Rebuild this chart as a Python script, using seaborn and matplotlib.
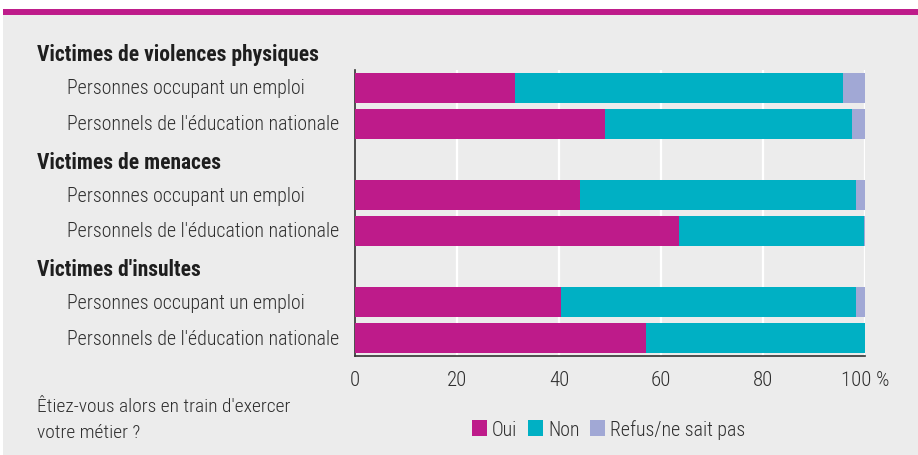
import matplotlib
matplotlib.use("Agg")
import matplotlib.pyplot as plt
import matplotlib.transforms as mtransforms
from matplotlib.patches import Rectangle
from matplotlib.lines import Line2D
import seaborn as sns
import pandas as pd
import numpy as np

# ---- data ----
groups = ["Victimes de violences physiques", "Victimes de menaces", "Victimes d'insultes"]
subcats = ["Personnes occupant un emploi", "Personnels de l'éducation nationale"]
oui = [31.4, 49.1, 44.2, 63.6, 40.4, 57.1]
non = [64.2, 48.4, 54.1, 36.2, 57.9, 42.9]
refus = [4.4, 2.5, 1.7, 0.2, 1.7, 0.0]
series = ["Oui", "Non", "Refus/ne sait pas"]
xticks = [0, 20, 40, 60, 80, 100]
xticklabels = ["0", "20", "40", "60", "80", "100 %"]
question = "Êtiez-vous alors en train d'exercer\nvotre métier ?"

colors = {"Oui": "#be1b8a", "Non": "#00b0c4", "Refus/ne sait pas": "#a1a8d5"}
BG = "#ececec"
TXT = "#2e2e2e"

sns.set_theme(style="white")
FONT = ["Roboto Condensed", "Barlow Semi Condensed", "Archivo Narrow", "DejaVu Sans"]
plt.rcParams["font.family"] = FONT

# build slots: header slot (empty) between groups, first header above axes
rows = []
slot_labels = []
k = 0
for gi, g in enumerate(groups):
    if gi > 0:
        slot = f"H{gi}"
        slot_labels.append(slot)
        rows.append({"slot": slot, "oui": np.nan, "non": np.nan, "tot": np.nan})
    for s in subcats:
        slot = f"R{k}"
        slot_labels.append(slot)
        rows.append({"slot": slot, "oui": oui[k], "non": oui[k] + non[k],
                     "tot": oui[k] + non[k] + refus[k]})
        k += 1
df = pd.DataFrame(rows)

fig = plt.figure(figsize=(9.18, 4.56), dpi=100)
fig.patch.set_facecolor("white")
# grey panel and magenta top rule
fig.patches.append(Rectangle((3 / 918, 0), 1, 1 - 15 / 456, transform=fig.transFigure,
                             facecolor=BG, edgecolor="none", zorder=-10))
fig.lines.append(Line2D([3 / 918, 1], [1 - 12.8 / 456, 1 - 12.8 / 456], transform=fig.transFigure,
                        color="#be1b8a", lw=4.3, solid_capstyle="butt", zorder=-9))

ax = fig.add_axes([355 / 918, 1 - 357 / 456, 510 / 918, (357 - 71) / 456])
ax.set_facecolor(BG)

bw = 0.84
sns.barplot(data=df, y="slot", x="tot", order=slot_labels, orient="h",
            color=colors["Refus/ne sait pas"], width=bw, saturation=1, ax=ax, zorder=3)
sns.barplot(data=df, y="slot", x="non", order=slot_labels, orient="h",
            color=colors["Non"], width=bw, saturation=1, ax=ax, zorder=3)
sns.barplot(data=df, y="slot", x="oui", order=slot_labels, orient="h",
            color=colors["Oui"], width=bw, saturation=1, ax=ax, zorder=3)
for p in ax.patches:
    p.set_edgecolor("none")
    p.set_linewidth(0)

ax.set_xlim(0, 100)
n = len(slot_labels)
ax.set_ylim(n - 0.5, -0.5)
ax.set_xlabel("")
ax.set_ylabel("")

for xv in xticks[1:]:
    ax.axvline(xv, color="white", lw=1.6, zorder=1)

for sp in ["top", "right"]:
    ax.spines[sp].set_visible(False)
for sp in ["left", "bottom"]:
    ax.spines[sp].set_color("#333333")
    ax.spines[sp].set_linewidth(1.2)

ax.set_yticks(np.arange(-0.5, n, 1.0))
ax.set_yticklabels([])
ax.set_xticks(xticks)
ax.set_xticklabels(xticklabels, fontsize=15, color=TXT, fontweight="light")
ax.tick_params(axis="both", direction="out", length=5, width=1.2, color="#333333")
ax.tick_params(axis="x", pad=5)

# row labels
trans = mtransforms.blended_transform_factory(fig.transFigure, ax.transData)
pos = 0
for gi, g in enumerate(groups):
    hy = -0.95 if gi == 0 else pos + 0.07
    if gi > 0:
        pos += 1
    ax.text(37 / 918, hy, g, transform=trans, fontsize=15.5, fontweight="bold",
            va="center", ha="left", color="#1e1e1e", clip_on=False)
    for s in subcats:
        ax.text(67 / 918, pos, s, transform=trans, fontsize=14.3, va="center",
                ha="left", color=TXT, fontweight="light", clip_on=False)
        pos += 1

# question text
fig.text(37 / 918, 1 - 420 / 456, question, fontsize=14, color=TXT, fontweight="light",
         va="center", ha="left", linespacing=1.55)

# legend
handles = [Rectangle((0, 0), 1, 1, facecolor=colors[s], edgecolor="none") for s in series]
leg = fig.legend(handles, series, loc="center left", bbox_to_anchor=(472 / 918, 1 - 430 / 456),
                 ncol=3, frameon=False, fontsize=14.3, handlelength=0.75, handleheight=0.8,
                 handletextpad=0.25, columnspacing=0.55, borderpad=0, borderaxespad=0,
                 labelcolor=TXT)
for t in leg.get_texts():
    t.set_fontweight("light")

fig.savefig("out.png", dpi=100, facecolor="white")
